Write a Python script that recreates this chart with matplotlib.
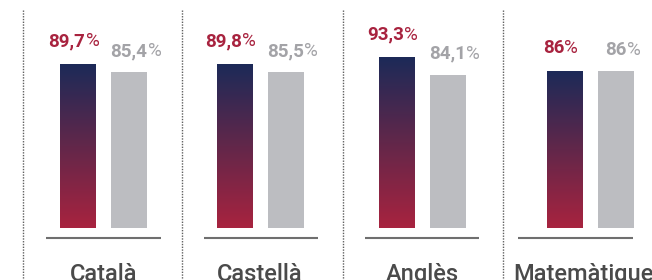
import numpy as np
import matplotlib.pyplot as plt
from matplotlib.colors import LinearSegmentedColormap

# data
subjects = ['Català', 'Castellà', 'Anglès', 'Matemàtiques']
school = [89.7, 89.8, 93.3, 86.0]      # gradient bars
catalonia = [85.4, 85.5, 84.1, 86.0]   # grey bars
school_lbl = ['89,7', '89,8', '93,3', '86']
cat_lbl = ['85,4', '85,5', '84,1', '86']

# layout (pixels in a 652x280 canvas)
W, H = 652, 280
base_px = 228          # pixel row of value 0
px_per_unit = 1.825
sep_x = [23, 182, 343, 503]
line_x = [(46, 161), (204, 318), (365, 479), (518, 633)]
centers = [103.5, 260, 422, 590]
bar_w = 36
half_gap = 25.5

RED = '#a8233f'
NAVY = '#1c2a58'
GREY_BAR = '#bcbdc1'
GREY_TXT = '#a3a3a7'

def py(p):
    return (base_px - p) / px_per_unit

fig = plt.figure(figsize=(W / 100, H / 100), dpi=100)
ax = fig.add_axes([0, 0, 1, 1])
ax.set_xlim(0, W)
ax.set_ylim(py(H), py(0))
ax.axis('off')

cmap = LinearSegmentedColormap.from_list('rb', [RED, '#62274a', NAVY])
grad = np.linspace(0, 1, 256).reshape(-1, 1)

def value_label(x, v, txt, color, dx, dy):
    t = ax.annotate(txt, xy=(x, v), xytext=(dx, dy), textcoords='offset points',
                    ha='center', va='baseline', fontsize=13.5, fontweight='bold',
                    color=color, family='Roboto')
    ax.annotate('%', xy=(1, 0), xycoords=t, xytext=(0.3, 0),
                textcoords='offset points', ha='left', va='bottom',
                fontsize=13.5, fontweight='normal', color=color, family='Roboto')

for i, s in enumerate(subjects):
    c = centers[i]
    xr = c - half_gap
    xg = c + half_gap
    ax.imshow(grad, cmap=cmap, origin='lower', aspect='auto',
              extent=[xr - bar_w / 2, xr + bar_w / 2, 0, school[i]], zorder=2)
    ax.bar(xg, catalonia[i], width=bar_w, color=GREY_BAR, zorder=2)
    value_label(xr, school[i], school_lbl[i], RED, -8, 13)
    value_label(xg, catalonia[i], cat_lbl[i], GREY_TXT, 0, 11.5)

    ax.plot(line_x[i], [py(238), py(238)], color='#6f6f6f', lw=1.5,
            solid_capstyle='butt')
    ax.text(c, py(281), s, ha='center', va='baseline', fontsize=17,
            fontweight='medium', color='#4a4a4a', family='Roboto')
    ax.plot([sep_x[i], sep_x[i]], [py(10), py(H + 5)], color='#606060',
            lw=1, ls=(0, (1, 1)))

ax.set_xlim(0, W)
ax.set_ylim(py(H), py(0))
fig.savefig('out.png', dpi=100)
